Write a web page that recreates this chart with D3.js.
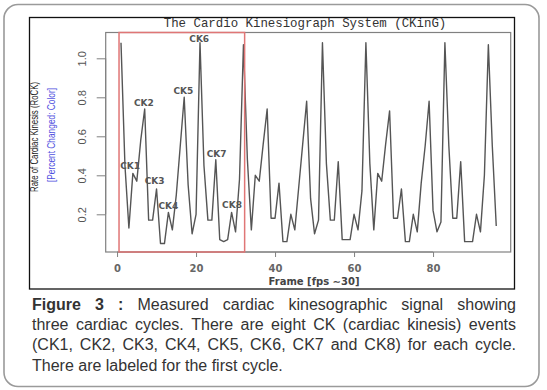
<!DOCTYPE html>
<html><head><meta charset="utf-8">
<script src="https://cdn.jsdelivr.net/npm/d3@7"></script>
<style>html,body{margin:0;padding:0;background:#fff;}svg{display:block;}</style>
</head><body>
<svg id="chart" width="547" height="390"></svg>
<script>
// ---- data ----
const title = "The Cardio Kinesiograph System (CKinG)";
const xLabel = "Frame [fps \u223C30]";
const yLabel1 = "Rate of Cardiac Kinesis (RoCK)";
const yLabel2 = "[Percent Changed: Color]";
const xTicks = [0, 20, 40, 60, 80];
const yTicks = [0.2, 0.4, 0.6, 0.8, 1.0];
const cycle1 = [1.08,0.45,0.13,0.41,0.37,0.58,0.74,0.17,0.17,0.33,0.05,0.05,0.21,0.12,0.30,0.55,0.80,0.35,0.10,0.20,1.08,0.45,0.17,0.17,0.48,0.07,0.06,0.07,0.21,0.11,0.38];
const cycle2 = [1.07,0.48,0.12,0.40,0.37,0.56,0.74,0.18,0.18,0.36,0.06,0.06,0.20,0.12,0.34,0.56,0.78,0.28,0.10,0.17,1.08,0.46,0.17,0.17,0.47,0.07,0.07,0.07,0.20,0.12,0.32];
const cycle3 = [1.08,0.46,0.12,0.41,0.37,0.56,0.73,0.18,0.18,0.33,0.06,0.06,0.20,0.11,0.36,0.55,0.78,0.22,0.11,0.16,1.08,0.55,0.18,0.18,0.47,0.06,0.06,0.06,0.20,0.11,0.40];
const tail = [1.07,0.55,0.14];
const values = cycle1.concat(cycle2, cycle3, tail);
const ckLabels = ["CK1","CK2","CK3","CK4","CK5","CK6","CK7","CK8"];
const ckX = [3.3, 6.8, 9.5, 13.0, 16.8, 20.8, 25.2, 29.1];
const ckY = [0.45, 0.77, 0.37, 0.245, 0.83, 1.10, 0.51, 0.25];
const boxFrames = [0.5, 32.3];
const captionLines = [
  ["*Figure","*3","*:","Measured","cardiac","kinesographic","signal","showing"],
  ["three","cardiac","cycles.","There","are","eight","CK","(cardiac","kinesis)","events"],
  ["(CK1,","CK2,","CK3,","CK4,","CK5,","CK6,","CK7","and","CK8)","for","each","cycle."],
  ["There are labeled for the first cycle."]
];

// ---- drawing ----
const svg = d3.select("#chart");
svg.append("rect").attr("x",4).attr("y",4.5).attr("width",535).attr("height",382)
  .attr("rx",14).attr("fill","#fff").attr("stroke","#9a9a9a").attr("stroke-width",1.6);
svg.append("rect").attr("x",29.5).attr("y",17.5).attr("width",485).attr("height",271.5)
  .attr("fill","#fff").attr("stroke","#111").attr("stroke-width",1.3);

const x = d3.scaleLinear().domain([0, 80]).range([117.05, 433.05]);
const y = d3.scaleLinear().domain([0.2, 1.0]).range([214.3, 58.3]);
const plotL = 105.7, plotR = 510.7, plotT = 32.5, plotB = 252;

svg.append("text").attr("x", 305).attr("y", 27).attr("text-anchor","middle")
  .attr("font-family","Liberation Mono, Courier New, monospace").attr("font-size",12.4)
  .attr("fill","#333").text(title);

// plot box
svg.append("rect").attr("x",plotL).attr("y",plotT).attr("width",plotR-plotL).attr("height",plotB-plotT)
  .attr("fill","none").attr("stroke","#808080").attr("stroke-width",1.2);

// axes
const xAxis = d3.axisBottom(x).tickValues(xTicks).tickSize(5).tickFormat(d3.format("d"));
const gx = svg.append("g").attr("transform",`translate(0,${plotB})`).call(xAxis);
gx.select(".domain").attr("d", `M${x(0)},0H${x(80)}`).attr("stroke","#808080");
gx.selectAll(".tick line").attr("stroke","#808080");
gx.selectAll(".tick text").attr("dy",0).attr("y",20).attr("font-family","DejaVu Sans, sans-serif")
  .attr("font-size",10).attr("font-weight","bold").attr("fill","#666");

const yAxis = d3.axisLeft(y).tickValues(yTicks).tickSize(9).tickFormat(d3.format(".1f"));
const gy = svg.append("g").attr("transform",`translate(${plotL},0)`).call(yAxis);
gy.select(".domain").attr("d", `M0,${y(0.2)}V${y(1.0)}`).attr("stroke","#808080");
gy.selectAll(".tick line").attr("stroke","#808080");
gy.selectAll(".tick text").attr("x",0).attr("dy",0).attr("text-anchor","middle")
  .attr("transform","translate(-24,0) rotate(-90)")
  .attr("dominant-baseline","central")
  .attr("font-family","Liberation Sans, Arial, sans-serif").attr("font-size",11)
  .attr("fill","#555");

svg.append("text").attr("transform","translate(38,137) rotate(-90)")
  .attr("text-anchor","middle").attr("font-family","Liberation Sans, Arial, sans-serif")
  .attr("font-size",10.5).attr("fill","#222").attr("textLength",110).attr("lengthAdjust","spacingAndGlyphs")
  .text(yLabel1);
svg.append("text").attr("transform","translate(55,135) rotate(-90)")
  .attr("text-anchor","middle").attr("font-family","Liberation Sans, Arial, sans-serif")
  .attr("font-size",10.5).attr("fill","#5050e0").attr("textLength",94).attr("lengthAdjust","spacingAndGlyphs")
  .text(yLabel2);

svg.append("text").attr("x", 314).attr("y", 285).attr("text-anchor","middle")
  .attr("font-family","DejaVu Sans, sans-serif").attr("font-size",10).attr("font-weight","bold")
  .attr("fill","#444").text(xLabel);

// signal
const line = d3.line().x((d,i)=>x(i+1)).y(d=>y(d));
svg.append("path").datum(values).attr("d",line).attr("fill","none")
  .attr("stroke","#555").attr("stroke-width",1.4).attr("stroke-linejoin","round");

// highlight box
svg.append("rect").attr("x",x(boxFrames[0])).attr("y",plotT)
  .attr("width",x(boxFrames[1])-x(boxFrames[0])).attr("height",plotB-plotT)
  .attr("fill","none").attr("stroke","#e07676").attr("stroke-width",1.5);

// CK labels
svg.selectAll(".ck").data(ckLabels).enter().append("text")
  .attr("x",(d,i)=>x(ckX[i])).attr("y",(d,i)=>y(ckY[i]))
  .attr("text-anchor","middle").attr("dominant-baseline","central")
  .attr("font-family","DejaVu Sans, sans-serif").attr("font-size",9).attr("font-weight","bold")
  .attr("fill","#555").text(d=>d);

// caption (justified)
const capL = 32, capR = 516, base0 = 310, lh = 20.2;
captionLines.forEach((words, li) => {
  const g = svg.append("g");
  const nodes = words.map(w => {
    const bold = w.startsWith("*");
    return g.append("text").attr("y", base0 + li*lh)
      .attr("font-family","Liberation Sans, Arial, sans-serif").attr("font-size",16)
      .attr("font-weight", bold ? "bold" : "normal").attr("fill","#333")
      .text(bold ? w.slice(1) : w);
  });
  const widths = nodes.map(n => n.node().getComputedTextLength());
  const total = d3.sum(widths);
  const justify = li < captionLines.length - 1 && nodes.length > 1;
  const gap = justify ? (capR - capL - total) / (nodes.length - 1) : 4.4;
  let cx = capL;
  nodes.forEach((n, i) => { n.attr("x", cx); cx += widths[i] + gap; });
});
</script>
</body></html>
